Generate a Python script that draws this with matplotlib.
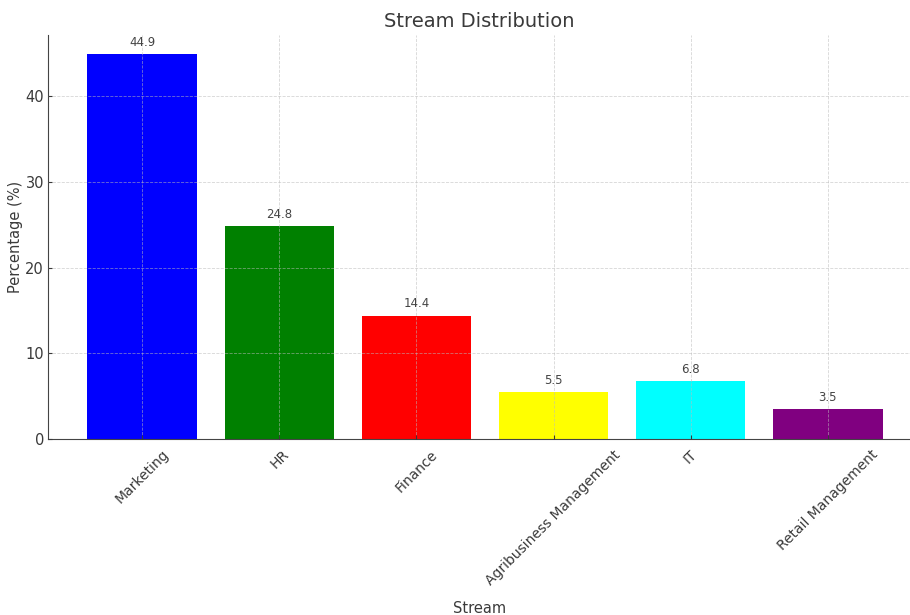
import matplotlib.pyplot as plt

streams = ['Marketing', 'HR', 'Finance', 'Agribusiness Management', 'IT', 'Retail Management']
percentages = [44.9, 24.8, 14.4, 5.5, 6.8, 3.5]
bar_colors = ['blue', 'green', 'red', 'yellow', 'cyan', 'purple']

text_color = '#3a3a3a'
plt.rcParams['text.color'] = text_color
plt.rcParams['axes.labelcolor'] = text_color
plt.rcParams['xtick.color'] = text_color
plt.rcParams['ytick.color'] = text_color

fig = plt.figure(figsize=(9.1, 6.15), dpi=100)
ax = fig.add_axes([0.053, 0.286, 0.947, 0.657])

bars = ax.bar(streams, percentages, color=bar_colors, width=0.8)
for b, v in zip(bars, percentages):
    ax.text(b.get_x() + b.get_width() / 2, v + 0.6, f'{v}', ha='center', va='bottom',
            fontsize=8.5, color='#444444')

ax.set_xlim(-0.686, 5.6)
ax.set_ylim(0, 47.1)
ax.set_yticks([0, 10, 20, 30, 40])
ax.tick_params(axis='both', direction='in', length=3)
ax.tick_params(axis='x', labelsize=10, rotation=45, pad=6)
ax.tick_params(axis='y', labelsize=10.5, pad=3)

ax.grid(True, linestyle='--', color='#bbbbbb', linewidth=0.6, alpha=0.6)
ax.set_axisbelow(False)
for s in ['top', 'right']:
    ax.spines[s].set_visible(False)
for s in ['left', 'bottom']:
    ax.spines[s].set_color('#444444')

ax.set_title('Stream Distribution', fontsize=14, color=text_color)
ax.set_xlabel('Stream', fontsize=10.5, labelpad=10)
ax.set_ylabel('Percentage (%)', fontsize=10.5, labelpad=2)

fig.savefig('out.png', dpi=100)
